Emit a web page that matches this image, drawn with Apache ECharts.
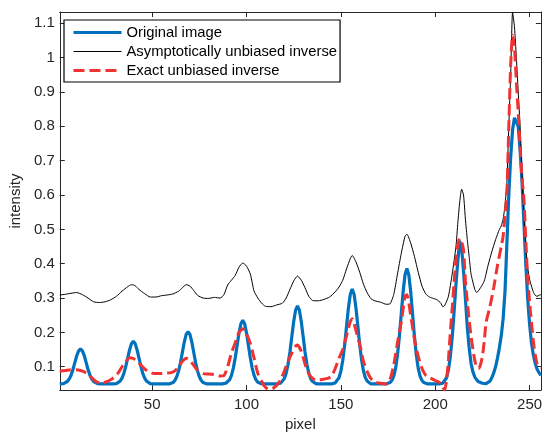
<!DOCTYPE html>
<html>
<head>
<meta charset="utf-8">
<script src="https://cdn.jsdelivr.net/npm/echarts@6/dist/echarts.min.js"></script>
<style>
  html, body { margin: 0; padding: 0; background: #fff; }
  #chart { width: 545px; height: 437px; }
</style>
</head>
<body>
<div id="chart"></div>
<script>
// tick labels
const xTicks = [50, 100, 150, 200, 250];
const yTicks = [0.1, 0.2, 0.3, 0.4, 0.5, 0.6, 0.7, 0.8, 0.9, 1, 1.1];

// original image, one value per pixel 1..256
const blueY = [
  // 1-21
  0.050,0.050,0.051,0.053,0.057,0.064,0.075,0.092,0.112,0.132,0.146,0.152,0.146,0.132,0.112,0.092,0.075,0.064,0.057,0.053,0.051,
  // 22-30
  0.050,0.050,0.050,0.050,0.050,0.050,0.050,0.050,0.050,
  // 31-49
  0.051,0.054,0.058,0.067,0.081,0.101,0.125,0.149,0.167,0.174,0.167,0.149,0.125,0.101,0.081,0.067,0.058,0.054,0.051,
  // 50-59
  0.050,0.050,0.050,0.050,0.050,0.050,0.050,0.050,0.050,0.050,
  // 60-78
  0.052,0.054,0.060,0.071,0.088,0.112,0.142,0.172,0.194,0.202,0.194,0.172,0.142,0.112,0.088,0.071,0.060,0.054,0.052,
  // 79-88
  0.050,0.050,0.050,0.050,0.050,0.050,0.050,0.050,0.050,0.050,
  // 89-107
  0.052,0.055,0.062,0.075,0.096,0.126,0.162,0.198,0.225,0.235,0.225,0.198,0.162,0.126,0.096,0.075,0.062,0.055,0.052,
  // 108-117
  0.050,0.050,0.050,0.050,0.050,0.050,0.050,0.050,0.050,0.050,
  // 118-136
  0.052,0.057,0.065,0.081,0.107,0.143,0.188,0.232,0.265,0.277,0.265,0.232,0.188,0.143,0.107,0.081,0.065,0.057,0.052,
  // 137-146
  0.050,0.050,0.050,0.050,0.050,0.050,0.050,0.050,0.050,0.050,
  // 147-165
  0.053,0.058,0.068,0.087,0.119,0.163,0.218,0.271,0.311,0.326,0.311,0.271,0.218,0.163,0.119,0.087,0.068,0.058,0.053,
  // 166-175
  0.050,0.050,0.050,0.050,0.050,0.050,0.050,0.050,0.050,0.050,
  // 176-194
  0.054,0.060,0.072,0.095,0.134,0.188,0.254,0.319,0.368,0.386,0.368,0.319,0.254,0.188,0.134,0.095,0.072,0.060,0.054,
  // 195-202
  0.050,0.050,0.050,0.050,0.050,0.050,0.050,0.050,
  // 203-227
  0.050,0.052,0.056,0.068,0.090,0.130,0.185,0.260,0.340,0.410,0.466,0.445,0.380,0.300,0.215,0.155,0.110,0.085,0.070,0.062,0.056,0.053,0.052,0.051,0.051,
  // 228-256
  0.053,0.058,0.068,0.082,0.100,0.125,0.155,0.190,0.240,0.320,0.460,0.600,0.710,0.790,0.825,0.830,0.800,0.730,0.640,0.520,0.400,0.300,0.225,0.170,0.135,0.110,0.093,0.083,0.075
];

// asymptotically unbiased inverse
const blackX = [
  1,4,7,10,13,16,19,22,25,28,
  31,34,37,39,41,43,46,49,52,55,
  58,61,64,66,68,70,72,74,77,80,
  83,86,88,90,92,94,96,98,100,102,
  104,106,108,110,113,116,119,121,123,125,
  127,129,131,133,135,138,141,144,147,149,
  151,153,155,156,158,160,162,164,166,168,
  171,174,176,178,180,182,184,185,187,189,
  191,193,195,197,199,201,203,204,205,207,
  209,211,212,213,214,215,216,217,218,219,
  221,222,224,226,228,230,232,234,235,236,
  237,238,239,240,241,242,243,244,245,246,
  247,248,249,250,251,252,253,254,255,256
];
const blackY = [
  0.309,0.311,0.314,0.316,0.310,0.300,0.289,0.287,0.289,0.295,
  0.305,0.320,0.333,0.339,0.336,0.325,0.313,0.303,0.303,0.307,
  0.309,0.312,0.320,0.330,0.339,0.335,0.322,0.308,0.300,0.299,
  0.302,0.300,0.310,0.338,0.352,0.366,0.390,0.402,0.393,0.370,
  0.320,0.300,0.285,0.276,0.275,0.280,0.285,0.300,0.325,0.350,
  0.364,0.352,0.330,0.305,0.293,0.292,0.296,0.303,0.318,0.332,
  0.352,0.385,0.415,0.424,0.405,0.375,0.340,0.315,0.298,0.292,
  0.288,0.282,0.283,0.310,0.370,0.430,0.480,0.486,0.460,0.421,
  0.375,0.335,0.312,0.303,0.299,0.295,0.285,0.275,0.278,0.305,
  0.370,0.450,0.520,0.580,0.617,0.600,0.530,0.470,0.420,0.370,
  0.325,0.316,0.330,0.350,0.395,0.435,0.470,0.500,0.510,0.530,
  0.570,0.640,0.800,0.950,1.132,1.090,1.000,0.900,0.800,0.660,
  0.540,0.450,0.390,0.355,0.335,0.318,0.308,0.305,0.308,0.310
];

// exact unbiased inverse
const redX = [
  1,4,7,10,12,14,16,18,20,22,
  25,28,30,32,34,36,38,40,42,44,
  46,48,51,54,57,60,62,64,66,68,
  70,72,74,77,80,83,86,88,90,92,
  94,96,98,100,102,104,106,108,110,112,
  114,116,118,120,122,124,126,127,129,131,
  133,135,137,140,143,145,147,149,151,153,
  155,156,158,160,162,164,166,168,171,174,
  176,178,180,182,184,185,187,189,191,193,
  195,197,200,202,204,205,206,207,208,209,
  210,211,212,213,214,215,216,217,218,219,
  220,221,222,223,224,225,226,227,229,231,
  233,235,236,237,238,239,240,241,242,243,
  244,245,246,247,248,249,250,251,252,253,
  254,255,256
];
const redY = [
  0.087,0.089,0.091,0.091,0.089,0.085,0.078,0.068,0.058,0.053,
  0.055,0.062,0.070,0.082,0.100,0.115,0.126,0.124,0.115,0.105,
  0.094,0.086,0.080,0.080,0.081,0.083,0.088,0.100,0.116,0.125,
  0.118,0.104,0.090,0.080,0.079,0.077,0.073,0.074,0.100,0.140,
  0.170,0.200,0.211,0.195,0.168,0.125,0.080,0.058,0.040,0.034,
  0.037,0.046,0.062,0.087,0.115,0.140,0.160,0.163,0.145,0.108,
  0.080,0.066,0.060,0.063,0.066,0.072,0.095,0.125,0.150,0.190,
  0.232,0.240,0.205,0.165,0.115,0.085,0.065,0.056,0.052,0.050,
  0.062,0.105,0.170,0.230,0.305,0.310,0.250,0.180,0.130,0.095,
  0.075,0.068,0.060,0.055,0.040,0.032,0.060,0.120,0.200,0.270,
  0.345,0.410,0.455,0.473,0.465,0.440,0.350,0.290,0.235,0.190,
  0.150,0.118,0.098,0.095,0.106,0.130,0.175,0.230,0.275,0.330,
  0.395,0.450,0.480,0.540,0.610,0.800,0.980,1.066,1.030,0.930,
  0.840,0.740,0.650,0.590,0.470,0.360,0.290,0.230,0.175,0.135,
  0.108,0.098,0.096
];

const axisColor = '#262626';
const font = 'Liberation Sans, Arial, Helvetica, sans-serif';
const hideSymbol = { opacity: 0, borderWidth: 0 };

const chart = echarts.init(document.getElementById('chart'), null, { renderer: 'canvas' });

function sideAxis(pos, isX) {
  return {
    type: 'value',
    position: pos,
    min: isX ? 1 : 0.032,
    max: isX ? 256 : 1.133,
    axisLine: { show: true, onZero: false, lineStyle: { color: axisColor, width: 1 } },
    axisTick: { show: true, inside: true, length: 5, customValues: isX ? xTicks : yTicks,
                lineStyle: { color: axisColor, width: 1 } },
    axisLabel: { show: false },
    splitLine: { show: false }
  };
}

chart.setOption({
  animation: false,
  backgroundColor: '#fff',
  grid: { left: 57, right: 1, top: 12, bottom: 41, containLabel: false },
  legend: {
    orient: 'vertical',
    left: 64,
    top: 20,
    padding: [5, 3, 4, 8],
    itemWidth: 48,
    itemHeight: 14,
    itemGap: 4,
    backgroundColor: '#fff',
    borderColor: '#000',
    borderWidth: 1.2,
    borderRadius: 0,
    selectedMode: false,
    textStyle: { color: '#000', fontSize: 14.8, fontFamily: font },
    data: [
      { name: 'Original image', lineStyle: { width: 3 }, itemStyle: hideSymbol },
      { name: 'Asymptotically unbiased inverse', lineStyle: { width: 1 }, itemStyle: hideSymbol },
      { name: 'Exact unbiased inverse', lineStyle: { width: 3, type: [11, 5] }, itemStyle: hideSymbol }
    ]
  },
  xAxis: [
    {
      type: 'value',
      position: 'bottom',
      min: 1,
      max: 256,
      name: 'pixel',
      nameLocation: 'middle',
      nameGap: 24,
      nameTextStyle: { color: axisColor, fontSize: 15, fontFamily: font },
      axisLine: { show: true, onZero: false, lineStyle: { color: axisColor, width: 1 } },
      axisTick: { show: true, inside: true, length: 5, customValues: xTicks,
                  lineStyle: { color: axisColor, width: 1 } },
      axisLabel: { customValues: xTicks, color: axisColor, fontSize: 15, fontFamily: font, margin: 7 },
      splitLine: { show: false }
    },
    sideAxis('top', true)
  ],
  yAxis: [
    {
      type: 'value',
      position: 'left',
      min: 0.032,
      max: 1.133,
      name: 'intensity',
      nameLocation: 'middle',
      nameGap: 32,
      nameTextStyle: { color: axisColor, fontSize: 15, fontFamily: font },
      axisLine: { show: true, onZero: false, lineStyle: { color: axisColor, width: 1 } },
      axisTick: { show: true, inside: true, length: 5, customValues: yTicks,
                  lineStyle: { color: axisColor, width: 1 } },
      axisLabel: { customValues: yTicks, color: axisColor, fontSize: 15, fontFamily: font, margin: 5,
                   formatter: v => String(Math.round(v * 10) / 10) },
      splitLine: { show: false }
    },
    sideAxis('right', false)
  ],
  series: [
    {
      name: 'Original image',
      type: 'line',
      symbol: 'none',
      data: blueY.map((v, i) => [i + 1, v]),
      lineStyle: { color: '#0072BD', width: 3.2 },
      itemStyle: { color: '#0072BD' },
      z: 2
    },
    {
      name: 'Asymptotically unbiased inverse',
      type: 'line',
      symbol: 'none',
      smooth: 0.2,
      data: blackX.map((x, i) => [x, blackY[i]]),
      lineStyle: { color: '#000', width: 1 },
      itemStyle: { color: '#000' },
      z: 3
    },
    {
      name: 'Exact unbiased inverse',
      type: 'line',
      symbol: 'none',
      smooth: 0.2,
      data: redX.map((x, i) => [x, redY[i]]),
      lineStyle: { color: '#F03232', width: 3, type: [11, 5] },
      itemStyle: { color: '#F03232' },
      z: 4
    }
  ]
});
</script>
</body>
</html>
